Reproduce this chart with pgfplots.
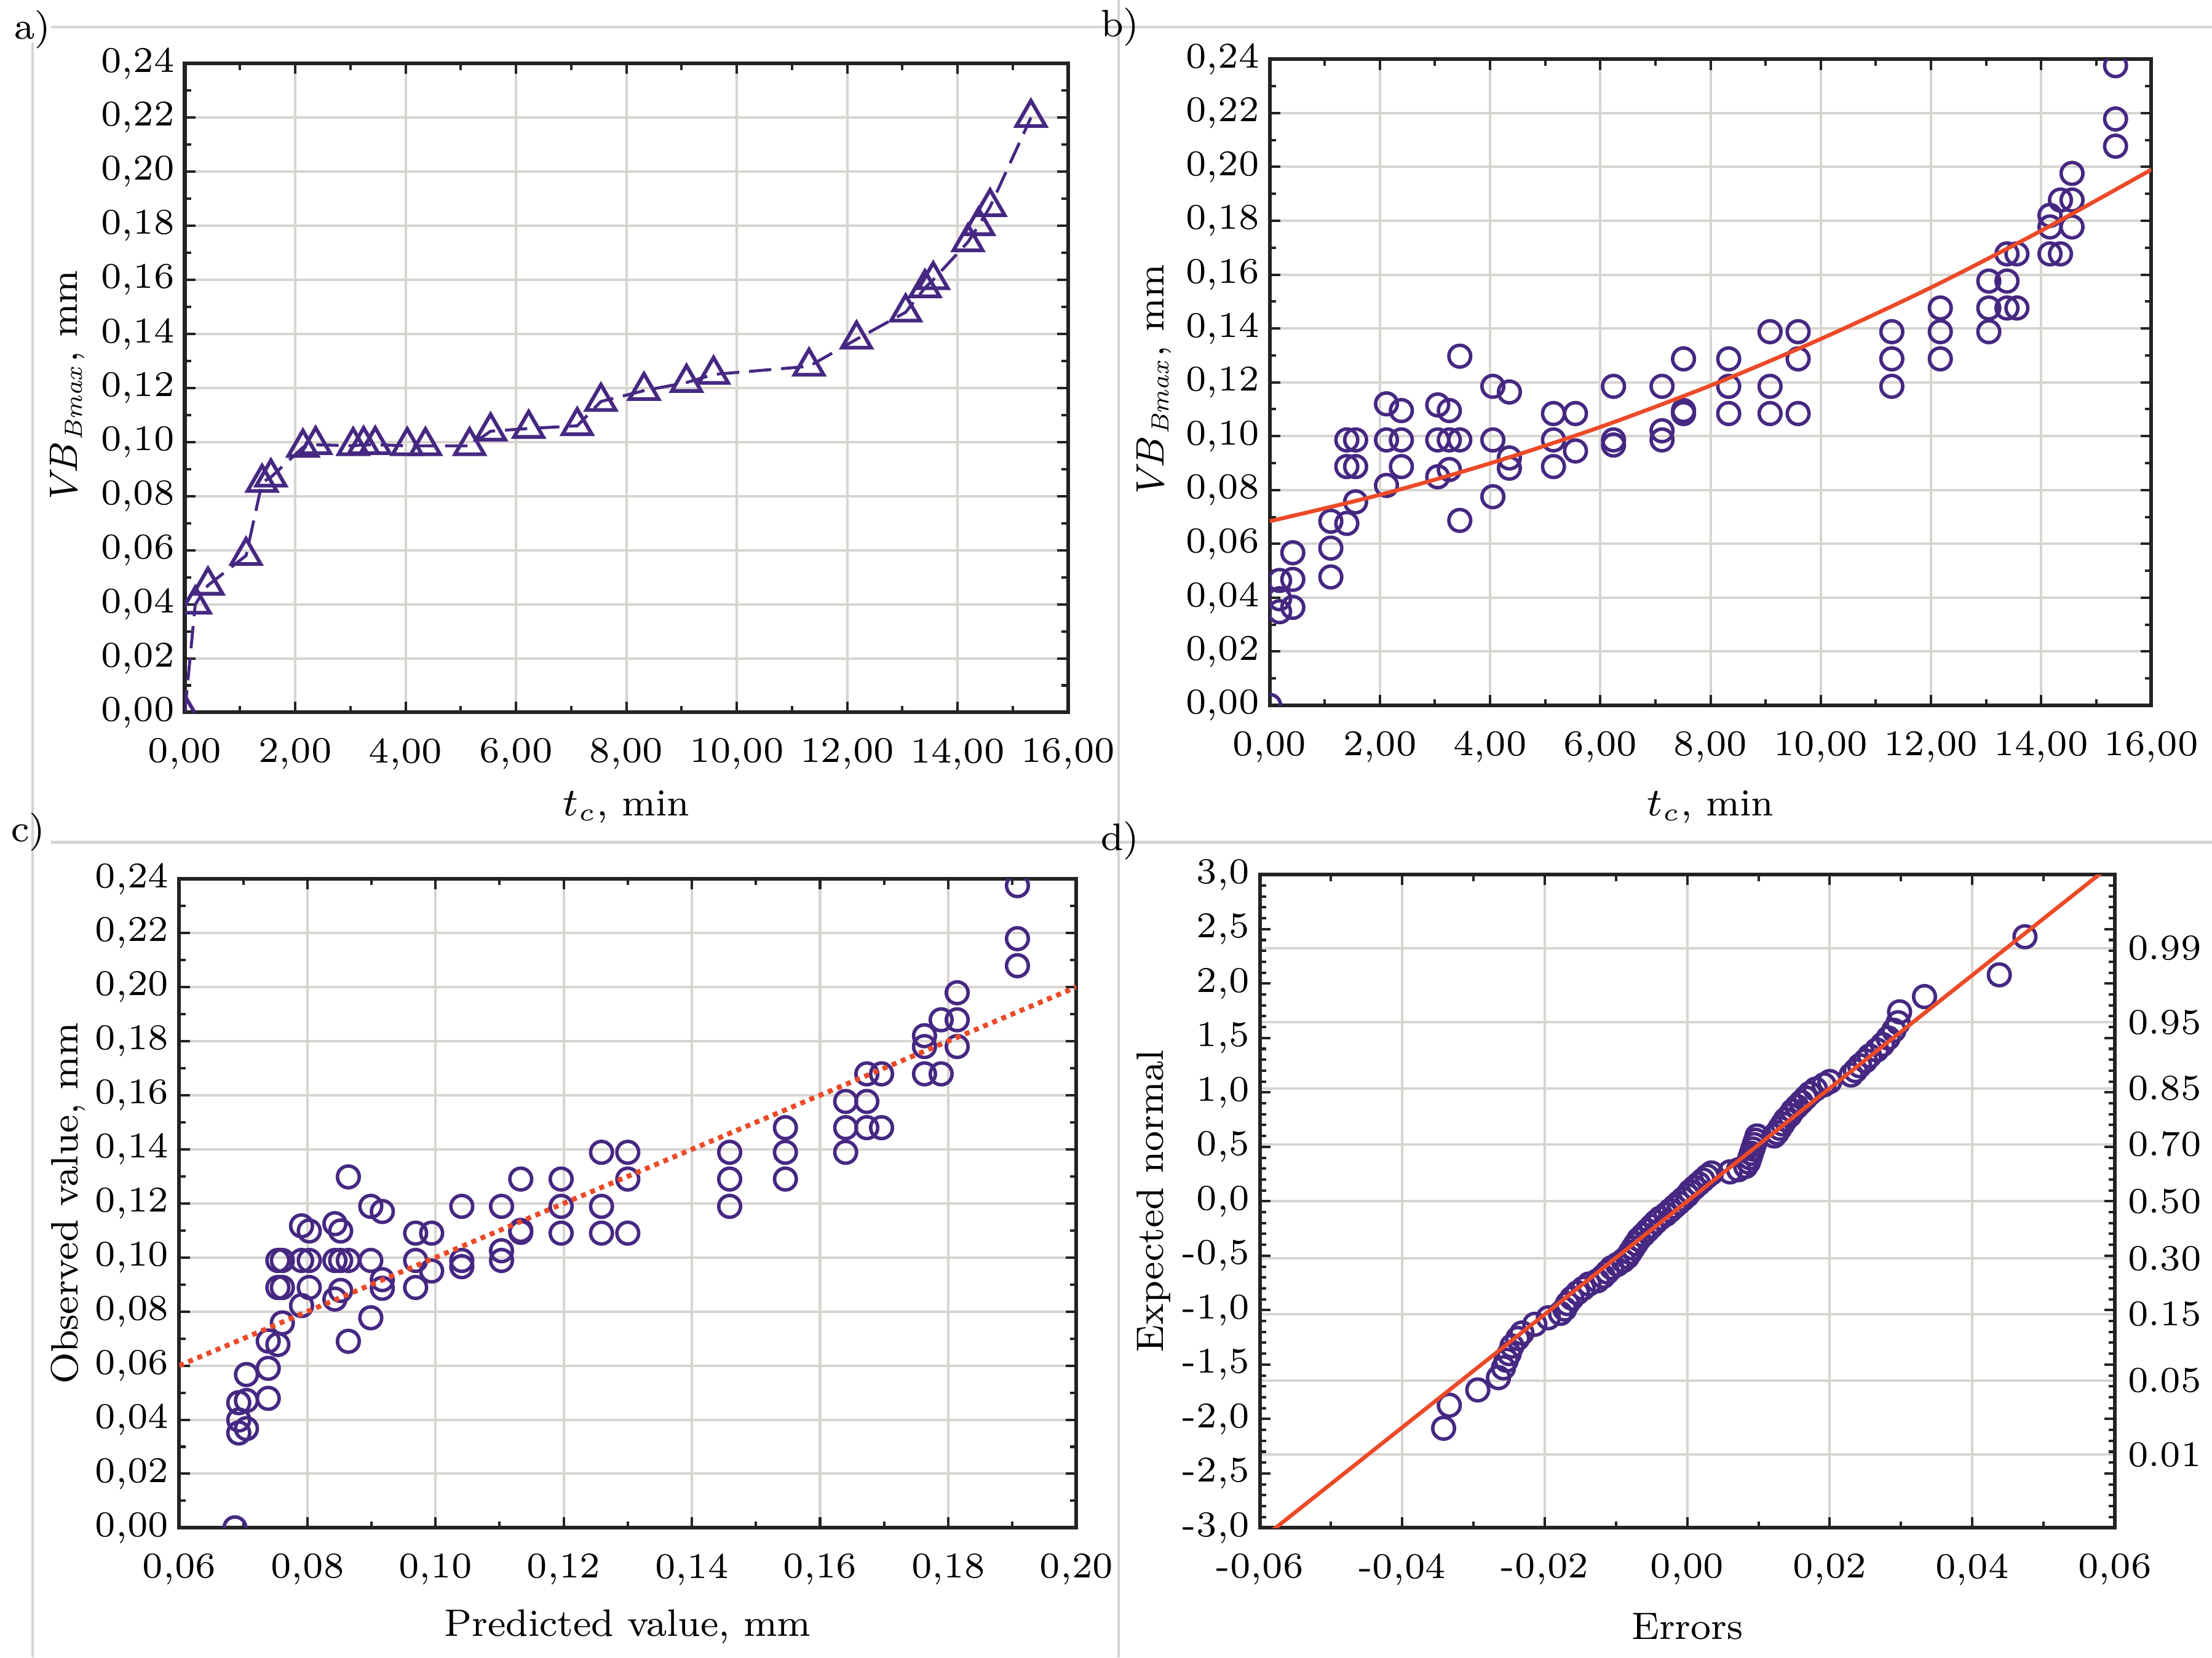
\documentclass[border=0pt]{standalone}
\usepackage{pgfplots}
\pgfplotsset{compat=1.18}
\definecolor{pur}{RGB}{70,40,130}
\definecolor{redl}{RGB}{236,74,40}
\definecolor{gridc}{RGB}{216,212,208}
\definecolor{framec}{RGB}{212,212,212}
\definecolor{axc}{RGB}{35,35,35}
\newcommand{\tfont}{\fontsize{7.3}{8.5}\selectfont}
\newcommand{\lfont}{\fontsize{7.7}{9}\selectfont}
\pgfplotsset{
  panel/.style={
    scale only axis, anchor=south west,
    clip marker paths=true,
    axis line style={axc, line width=0.75pt},
    major grid style={gridc, line width=0.5pt},
    tick style={axc, line width=0.5pt},
    major tick length=0.075cm, minor tick length=0.045cm,
    tick align=inside,
    scaled ticks=false,
    tick label style={font=\tfont},
    label style={font=\lfont},
    xticklabel style={yshift=-0.06cm},
    xlabel style={anchor=center},
    ylabel style={anchor=center},
    /pgf/number format/fixed,
    /pgf/number format/fixed zerofill,
    /pgf/number format/precision=2,
    /pgf/number format/use comma,
    /pgf/number format/assume math mode=true,
  },
  leftlab/.style={yticklabel style={xshift=0.05cm}},
  circ/.style={only marks, mark=o, mark size=2.2pt, mark options={pur, line width=0.7pt}},
}
\begin{document}
\begin{tikzpicture}
\useasboundingbox (0,0) rectangle (15.68,11.75);
% frame lines
\draw[framec, line width=0.5pt] (0.36,11.56) -- (15.68,11.56);
\draw[framec, line width=0.5pt] (0.23,11.45) -- (0.23,0);
\draw[framec, line width=0.5pt] (7.93,11.75) -- (7.93,0);
\draw[framec, line width=0.5pt] (0.36,5.78) -- (15.68,5.78);
\node[font=\lfont] at (0.23,11.54) {a)};
\node[font=\lfont] at (7.94,11.56) {b)};
\node[font=\lfont] at (0.20,5.85) {c)};
\node[font=\lfont] at (7.94,5.79) {d)};

% ---------------- a ----------------
\begin{axis}[panel, leftlab, at={(1.31cm,6.70cm)}, width=6.26cm, height=4.60cm,
  xmin=0, xmax=16, ymin=0, ymax=0.24,
  xtick={0,2,4,6,8,10,12,14,16},
  ytick={0,0.02,0.04,0.06,0.08,0.10,0.12,0.14,0.16,0.18,0.20,0.22,0.24},
  minor x tick num=1, minor y tick num=1, grid=major,
  xlabel={$t_c$, min}, ylabel={$\mathit{VB}_{\mathit{Bmax}}$, mm},
  xlabel style={at={(axis description cs:0.5,-0.146)}},
  ylabel style={at={(axis description cs:-0.133,0.5)}}]
\addplot[pur, line width=0.6pt, dash pattern=on 4.5pt off 2pt,
  mark=triangle, mark size=3.4pt, mark options={solid, line width=0.75pt, fill=none}]
coordinates {
(0,0) (0.19,0.040) (0.42,0.047) (1.11,0.058) (1.40,0.085) (1.56,0.087)
(2.14,0.098) (2.37,0.099) (3.05,0.0986) (3.24,0.099) (3.45,0.099)
(4.03,0.0986) (4.36,0.0986) (5.16,0.0986) (5.54,0.104) (6.23,0.105)
(7.11,0.106) (7.54,0.115) (8.32,0.119) (9.09,0.122) (9.58,0.125)
(11.31,0.128) (12.17,0.138) (13.06,0.148) (13.41,0.157) (13.56,0.160)
(14.19,0.174) (14.38,0.180) (14.59,0.187) (15.33,0.220)
};
\end{axis}

% ---------------- b ----------------
\begin{axis}[panel, leftlab, at={(9.00cm,6.75cm)}, width=6.25cm, height=4.58cm,
  xmin=0, xmax=16, ymin=0, ymax=0.24,
  xtick={0,2,4,6,8,10,12,14,16},
  ytick={0,0.02,0.04,0.06,0.08,0.10,0.12,0.14,0.16,0.18,0.20,0.22,0.24},
  minor x tick num=1, minor y tick num=1, grid=major,
  xlabel={$t_c$, min}, ylabel={$\mathit{VB}_{\mathit{Bmax}}$, mm},
  xlabel style={at={(axis description cs:0.5,-0.157)}},
  ylabel style={at={(axis description cs:-0.131,0.5)}}]
\addplot[circ] coordinates {
(0,0)
(0.18,0.0464) (0.18,0.0396) (0.18,0.0348)
(0.42,0.0567) (0.42,0.0468) (0.42,0.0364)
(1.11,0.0684) (1.11,0.0584) (1.11,0.0477)
(1.40,0.0676) (1.40,0.0986) (1.40,0.0887)
(1.56,0.0756) (1.56,0.0986) (1.56,0.0887)
(2.12,0.1120) (2.12,0.0986) (2.12,0.0817)
(2.39,0.1095) (2.39,0.0986) (2.39,0.0887)
(3.05,0.1116) (3.05,0.0986) (3.05,0.0849)
(3.26,0.1095) (3.26,0.0986) (3.26,0.0876)
(3.45,0.1297) (3.45,0.0986) (3.45,0.0687)
(4.05,0.1185) (4.05,0.0986) (4.05,0.0775)
(4.35,0.1164) (4.35,0.0919) (4.35,0.0881)
(5.15,0.1084) (5.15,0.0986) (5.15,0.0887)
(5.55,0.1084) (5.55,0.0945)
(6.24,0.1185) (6.24,0.0986) (6.24,0.0967)
(7.12,0.1185) (7.12,0.1020) (7.12,0.0986)
(7.51,0.1287) (7.51,0.1095) (7.51,0.1084)
(8.33,0.1287) (8.33,0.1185) (8.33,0.1084)
(9.08,0.1388) (9.08,0.1185) (9.08,0.1084)
(9.59,0.1388) (9.59,0.1287) (9.59,0.1084)
(11.29,0.1388) (11.29,0.1287) (11.29,0.1185)
(12.17,0.1476) (12.17,0.1388) (12.17,0.1287)
(13.05,0.1576) (13.05,0.1476) (13.05,0.1388)
(13.38,0.1677) (13.38,0.1576) (13.38,0.1476)
(13.56,0.1677) (13.56,0.1476)
(14.16,0.1820) (14.16,0.1777) (14.16,0.1677)
(14.35,0.1877) (14.35,0.1677)
(14.56,0.1976) (14.56,0.1877) (14.56,0.1777)
(15.35,0.2376) (15.35,0.2178) (15.35,0.2077)
};
\addplot[redl, line width=0.8pt, smooth] coordinates {
(0,0.0684) (2,0.0782) (4,0.0899) (6,0.1034) (8,0.1188)
(10,0.1361) (12,0.1552) (14,0.1763) (16,0.1990)
};
\end{axis}

% ---------------- c ----------------
\begin{axis}[panel, leftlab, at={(1.27cm,0.92cm)}, width=6.36cm, height=4.60cm,
  xmin=0.06, xmax=0.20, ymin=0, ymax=0.24,
  xtick={0.06,0.08,0.10,0.12,0.14,0.16,0.18,0.20},
  ytick={0,0.02,0.04,0.06,0.08,0.10,0.12,0.14,0.16,0.18,0.20,0.22,0.24},
  minor x tick num=1, minor y tick num=1, grid=major,
  xlabel={Predicted value, mm}, ylabel={Observed value, mm},
  xlabel style={at={(axis description cs:0.5,-0.152)}},
  ylabel style={at={(axis description cs:-0.124,0.5)}}]
\addplot[circ] coordinates {
(0.0687,0.0)
(0.0693,0.0463) (0.0693,0.0399) (0.0693,0.0351)
(0.0705,0.0567) (0.0705,0.0471) (0.0705,0.0367)
(0.0739,0.0691) (0.0739,0.0590) (0.0739,0.0479)
(0.0754,0.0678) (0.0754,0.0989) (0.0754,0.0889)
(0.0761,0.0758) (0.0761,0.0989) (0.0761,0.0889)
(0.0791,0.1117) (0.0791,0.0989) (0.0791,0.0822)
(0.0803,0.1098) (0.0803,0.0989) (0.0803,0.0889)
(0.0843,0.1125) (0.0843,0.0989) (0.0843,0.0846)
(0.0852,0.1098) (0.0852,0.0989) (0.0852,0.0878)
(0.0864,0.1298) (0.0864,0.0989) (0.0864,0.0690)
(0.0899,0.1189) (0.0899,0.0989) (0.0899,0.0777)
(0.0917,0.1170) (0.0917,0.0918) (0.0917,0.0886)
(0.0969,0.1090) (0.0969,0.0989) (0.0969,0.0889)
(0.0994,0.1090) (0.0994,0.0950)
(0.1041,0.1189) (0.1041,0.0989) (0.1041,0.0966)
(0.1103,0.1189) (0.1103,0.1025) (0.1103,0.0989)
(0.1133,0.1290) (0.1133,0.1093) (0.1133,0.1100)
(0.1196,0.1290) (0.1196,0.1189) (0.1196,0.1090)
(0.1259,0.1389) (0.1259,0.1189) (0.1259,0.1090)
(0.1300,0.1389) (0.1300,0.1290) (0.1300,0.1090)
(0.1459,0.1389) (0.1459,0.1290) (0.1459,0.1189)
(0.1546,0.1480) (0.1546,0.1389) (0.1546,0.1290)
(0.1640,0.1577) (0.1640,0.1480) (0.1640,0.1389)
(0.1673,0.1679) (0.1673,0.1577) (0.1673,0.1480)
(0.1696,0.1679) (0.1696,0.1480)
(0.1763,0.1820) (0.1763,0.1780) (0.1763,0.1679)
(0.1789,0.1879) (0.1789,0.1679)
(0.1814,0.1979) (0.1814,0.1879) (0.1814,0.1780)
(0.1908,0.2375) (0.1908,0.2179) (0.1908,0.2079)
};
\addplot[redl, line width=1pt, dash pattern=on 1pt off 1pt] coordinates {(0.06,0.06) (0.20,0.20)};
\end{axis}

% ---------------- d (right probability labels + horizontal grid) ----------------
\begin{axis}[panel, at={(8.93cm,0.92cm)}, width=6.06cm, height=4.63cm,
  xmin=-0.06, xmax=0.06, ymin=-3, ymax=3,
  hide x axis, axis line style={draw=none}, tick style={draw=none},
  yticklabel pos=right, ymajorgrids,
  ytick={-2.326,-1.645,-1.036,-0.524,0,0.524,1.036,1.645,2.326},
  yticklabels={0.01,0.05,0.15,0.30,0.50,0.70,0.85,0.95,0.99},
  yticklabel style={font=\tfont, xshift=-0.03cm}]
\addplot[draw=none] coordinates {(0,0)};
\end{axis}

% ---------------- d ----------------
\begin{axis}[panel, leftlab, at={(8.93cm,0.92cm)}, width=6.06cm, height=4.63cm,
  xmin=-0.06, xmax=0.06, ymin=-3, ymax=3,
  xtick={-0.06,-0.04,-0.02,0,0.02,0.04,0.06},
  ytick={-3,-2.5,-2,-1.5,-1,-0.5,0,0.5,1,1.5,2,2.5,3},
  yticklabel style={/pgf/number format/precision=1},
  minor x tick num=1, minor y tick num=4, xmajorgrids,
  xlabel={Errors}, ylabel={Expected normal},
  xlabel style={at={(axis description cs:0.5,-0.151)}},
  ylabel style={at={(axis description cs:-0.124,0.5)}}]
\addplot[circ] coordinates {
(-0.0342,-2.085) (-0.0334,-1.873) (-0.0294,-1.733) (-0.0265,-1.62)
(-0.0258,-1.53) (-0.0254,-1.46) (-0.0250,-1.40) (-0.0246,-1.33)
(-0.0238,-1.26) (-0.0232,-1.21) (-0.0214,-1.13) (-0.0195,-1.07)
(-0.0178,-1.03) (-0.0172,-0.99) (-0.0168,-0.94) (-0.0162,-0.89)
(-0.0154,-0.84) (-0.0146,-0.80) (-0.0138,-0.76) (-0.0126,-0.73)
(-0.0118,-0.69) (-0.0112,-0.65) (-0.0106,-0.61) (-0.0098,-0.58)
(-0.0090,-0.545) (-0.0084,-0.51) (-0.0080,-0.47) (-0.0076,-0.43)
(-0.0072,-0.39) (-0.0068,-0.35) (-0.0062,-0.31) (-0.0056,-0.27)
(-0.0050,-0.23) (-0.0044,-0.19) (-0.0038,-0.155) (-0.0030,-0.12)
(-0.0024,-0.085) (-0.0018,-0.05) (-0.0012,-0.015) (-0.0006,0.02)
(0.0000,0.055) (0.0004,0.09) (0.0010,0.125) (0.0016,0.16)
(0.0022,0.195) (0.0028,0.23) (0.0034,0.26) (0.0060,0.27)
(0.0072,0.29) (0.0082,0.32) (0.0086,0.36) (0.0088,0.40)
(0.0090,0.44) (0.0092,0.48) (0.0094,0.52) (0.0096,0.56)
(0.0098,0.60) (0.0122,0.60) (0.0126,0.63) (0.0130,0.67)
(0.0134,0.71) (0.0138,0.75) (0.0144,0.79) (0.0148,0.83)
(0.0154,0.87) (0.0160,0.91) (0.0166,0.95) (0.0172,0.99)
(0.0180,1.03) (0.0192,1.07) (0.0200,1.10) (0.0230,1.16)
(0.0236,1.20) (0.0242,1.245) (0.0250,1.29) (0.0256,1.335)
(0.0266,1.39) (0.0274,1.44) (0.0282,1.50) (0.0290,1.57)
(0.0296,1.64) (0.0298,1.74) (0.0333,1.88) (0.0438,2.08)
(0.0474,2.43)
};
\addplot[redl, line width=0.8pt] coordinates {(-0.06,-3.115) (0.06,3.115)};
\end{axis}
\end{tikzpicture}
\end{document}
